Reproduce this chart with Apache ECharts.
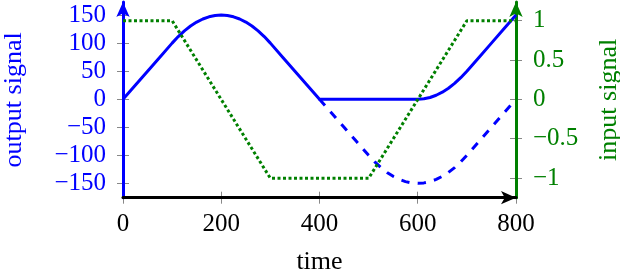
<!DOCTYPE html>
<html><head><meta charset="utf-8">
<script src="https://cdn.jsdelivr.net/npm/echarts@6/dist/echarts.min.js"></script>
<style>html,body{margin:0;padding:0;background:#fff}#c{width:620px;height:270px}</style>
</head><body><div id="c"></div>
<script>
// ---- data ----
const solidX = [0,25,50,75,100,112.5,125,137.5,150,162.5,175,187.5,200,212.5,225,237.5,250,262.5,275,287.5,300,325,350,375,400,450,500,550,600,612.5,625,637.5,650,662.5,675,687.5,700,725,750,775,800];
const outputSolid = [0,25,50,75,100,111.7,121.9,130.5,137.5,143,146.9,149.2,150,149.2,146.9,143,137.5,130.5,121.9,111.7,100,75,50,25,0,0,0,0,0,0.8,3.1,7,12.5,19.5,28.1,38.3,50,75,100,125,150];
const dashX = [400,425,450,475,500,512.5,525,537.5,550,562.5,575,587.5,600,612.5,625,637.5,650,662.5,675,687.5,700,725,750,775,800];
const outputDashed = [0,-25,-50,-75,-100,-111.7,-121.9,-130.5,-137.5,-143,-146.9,-149.2,-150,-149.2,-146.9,-143,-137.5,-130.5,-121.9,-111.7,-100,-75,-50,-25,0];
const inputX = [0,100,300,500,700,800];
const inputSignal = [1,1,-1,-1,1,1];
const xTicks = [0,200,400,600,800];
const leftTicks = [-150,-100,-50,0,50,100,150];
const rightTicks = [-1,-0.5,0,0.5,1];

const FONT = 'Liberation Serif';
const fmt = v => String(v).replace('-', '\u2212');
const LMIN = -175.6, LMAX = 173.3, RMIN = -1.246, RMAX = 1.237;
const arrow = {symbol: ['none', 'arrow'], symbolSize: [10, 15], symbolOffset: [0, 0]};

const chart = echarts.init(document.getElementById('c'), null, {renderer: 'canvas'});
chart.setOption({
  animation: false,
  grid: {left: 123, right: 104, top: 2, bottom: 72.3, containLabel: false, outerBoundsMode: 'none'},
  xAxis: [
    {type: 'value', min: 0, max: 800, interval: 200, position: 'bottom', z: 1,
      name: 'time', nameLocation: 'middle', nameGap: 51,
      nameTextStyle: {fontFamily: FONT, fontSize: 26, color: '#000'},
      axisLine: Object.assign({show: true, onZero: false, lineStyle: {color: '#000', width: 3}}, arrow),
      axisTick: {show: false}, splitLine: {show: false},
      axisLabel: {fontFamily: FONT, fontSize: 25, color: '#000', margin: 14, formatter: fmt}}
  ],
  yAxis: [
    {type: 'value', min: LMIN, max: LMAX, position: 'left', z: 1,
      name: 'output signal', nameLocation: 'middle', nameGap: 96, nameRotate: 90,
      nameTextStyle: {fontFamily: FONT, fontSize: 26, color: '#0000ff'},
      axisLine: Object.assign({show: true, onZero: false, lineStyle: {color: '#0000ff', width: 3}}, arrow),
      axisTick: {show: false}, splitLine: {show: false},
      axisLabel: {customValues: leftTicks, fontFamily: FONT, fontSize: 25, color: '#0000ff', margin: 17, formatter: fmt}},
    {type: 'value', min: RMIN, max: RMAX, position: 'right', z: 1,
      name: 'input signal', nameLocation: 'middle', nameGap: 80, nameRotate: 90,
      nameTextStyle: {fontFamily: FONT, fontSize: 26, color: '#008000'},
      axisLine: Object.assign({show: true, onZero: false, lineStyle: {color: '#008000', width: 3}}, arrow),
      axisTick: {show: false}, splitLine: {show: false},
      axisLabel: {customValues: rightTicks, fontFamily: FONT, fontSize: 25, color: '#008000', margin: 17, formatter: fmt}}
  ],
  series: [
    {type: 'line', xAxisIndex: 0, yAxisIndex: 0, showSymbol: false, symbol: 'none', z: 3,
      data: solidX.map((x, i) => [x, outputSolid[i]]),
      lineStyle: {color: '#0000ff', width: 3, join: 'round'}},
    {type: 'line', xAxisIndex: 0, yAxisIndex: 0, showSymbol: false, symbol: 'none', z: 3,
      data: dashX.map((x, i) => [x, outputDashed[i]]),
      lineStyle: {color: '#0000ff', width: 3, type: [8.3, 8.3], cap: 'butt'}},
    {type: 'line', xAxisIndex: 0, yAxisIndex: 1, showSymbol: false, symbol: 'none', z: 4,
      data: inputX.map((x, i) => [x, inputSignal[i]]),
      lineStyle: {color: '#008000', width: 3, type: [3, 2.5], cap: 'butt'}}
  ]
});

// crossing tick marks, placed through the chart's own axis scales
const px = v => chart.convertToPixel({xAxisIndex: 0}, v);
const pl = v => chart.convertToPixel({yAxisIndex: 0}, v);
const pr = v => chart.convertToPixel({yAxisIndex: 1}, v);
const axisY = pl(LMIN), leftX = px(0), rightX = px(800);
const T = 6, tickLine = {stroke: '#888888', lineWidth: 1};
const crisp = v => Math.round(v - 0.5) + 0.5;
const ticks = [];
xTicks.forEach(v => { const x = crisp(px(v)); ticks.push({type: 'line', z: 0, silent: true, shape: {x1: x, y1: axisY - T, x2: x, y2: axisY + T}, style: tickLine}); });
leftTicks.forEach(v => { const y = crisp(pl(v)); ticks.push({type: 'line', z: 0, silent: true, shape: {x1: leftX - T, y1: y, x2: leftX + T, y2: y}, style: tickLine}); });
rightTicks.forEach(v => { const y = crisp(pr(v)); ticks.push({type: 'line', z: 0, silent: true, shape: {x1: rightX - T, y1: y, x2: rightX + T, y2: y}, style: tickLine}); });
chart.setOption({graphic: ticks});
</script></body></html>
